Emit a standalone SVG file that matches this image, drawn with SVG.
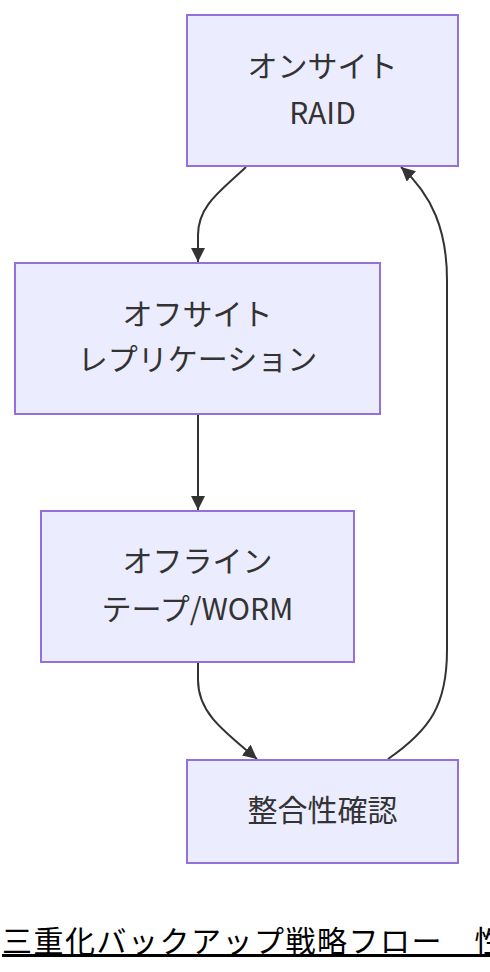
<svg xmlns="http://www.w3.org/2000/svg" width="490" height="972" viewBox="0 0 490 972">
<defs>
<style>
.node rect{fill:#ECECFF;stroke:#9370DB;stroke-width:2}
.node text{font-family:"Noto Sans CJK JP","Liberation Sans",sans-serif;font-size:30px;fill:#333333;text-anchor:middle}
.edge{fill:none;stroke:#333333;stroke-width:2}
.title{font-family:"Noto Sans CJK JP","Liberation Sans",sans-serif;font-size:30px;fill:#000000;letter-spacing:1.5px;text-decoration:underline}
</style>
<marker id="arrow" viewBox="0 0 14 14" refX="14" refY="7" markerWidth="14" markerHeight="14" markerUnits="userSpaceOnUse" orient="auto">
<path d="M0,0 L14,7 L0,14 z" fill="#333333"/>
</marker>
</defs>
<rect width="490" height="972" fill="#ffffff"/>
<g id="connectors">
<path class="edge" d="M246,167 C222,190 198,205 198,235 L198,262" marker-end="url(#arrow)"/>
<path class="edge" d="M198,414 L198,510" marker-end="url(#arrow)"/>
<path class="edge" d="M198,662 L198,680 C198,712 222,730 257,759" marker-end="url(#arrow)"/>
<path class="edge" d="M388,759 C430,730 447,705 447,650 L447,280 C447,230 432,195 401,167" marker-end="url(#arrow)"/>
</g>
<g id="node-onsite" class="node">
<rect x="187" y="15" width="271" height="151"/>
<text x="322.5" y="77">オンサイト</text>
<text x="322.5" y="124">RAID</text>
</g>
<g id="node-offsite" class="node">
<rect x="15" y="263" width="365" height="151"/>
<text x="197.5" y="325">オフサイト</text>
<text x="197.5" y="370">レプリケーション</text>
</g>
<g id="node-offline" class="node">
<rect x="41" y="511" width="313" height="151"/>
<text x="197.5" y="572">オフライン</text>
<text x="197.5" y="620">テープ/WORM</text>
</g>
<g id="node-verify" class="node">
<rect x="187" y="760" width="271" height="103"/>
<text x="322.5" y="821">整合性確認</text>
</g>
<text id="title" class="title" x="2" y="952">三重化バックアップ戦略フロー　性</text>
</svg>
